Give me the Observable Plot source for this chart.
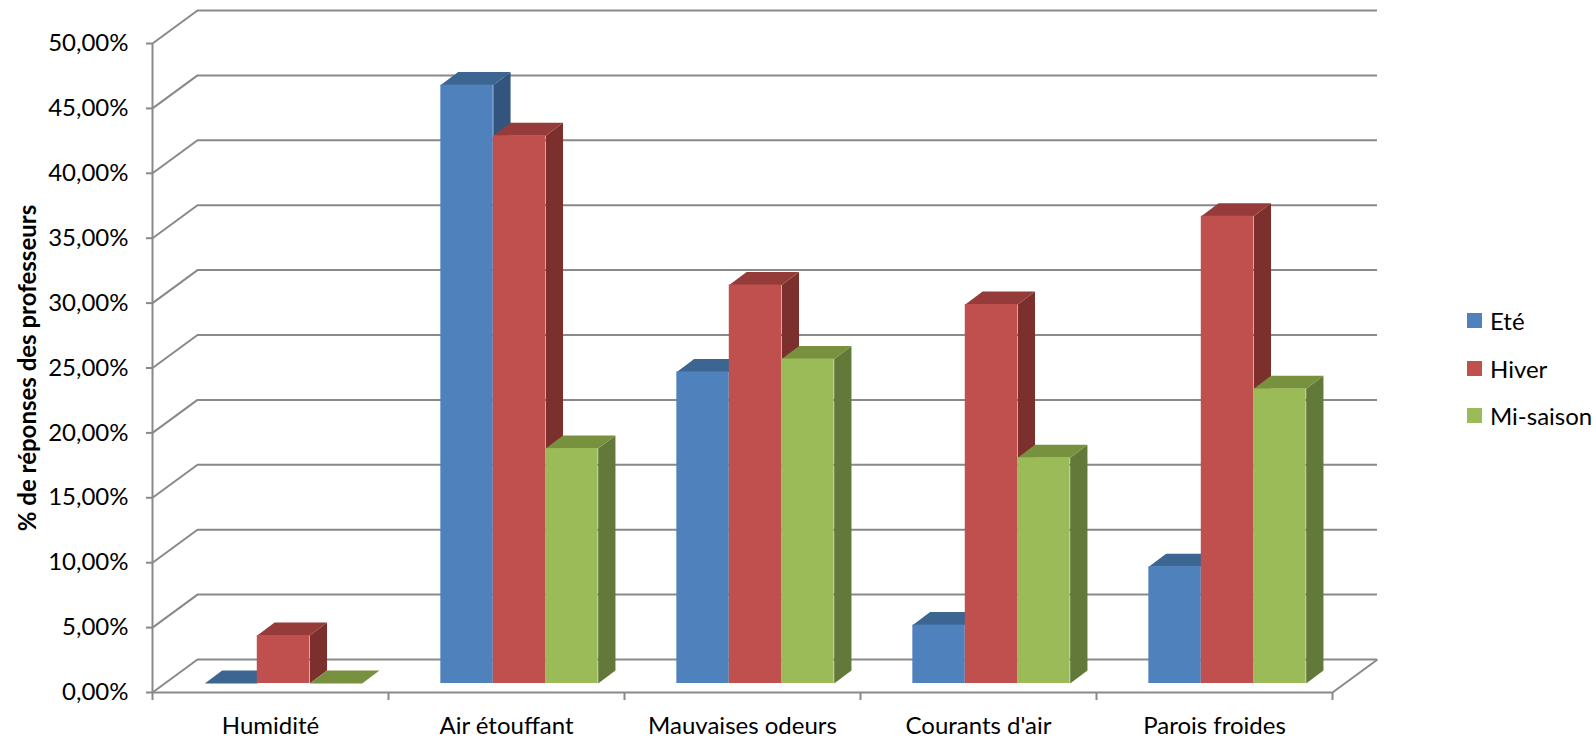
<!DOCTYPE html>
<html>
<head>
<meta charset="utf-8">
<script src="https://cdn.jsdelivr.net/npm/d3@7"></script>
<script src="https://cdn.jsdelivr.net/npm/@observablehq/plot@0.6"></script>
<style>
  html, body { margin: 0; padding: 0; background: #fff; }
  #chart { position: relative; width: 1596px; height: 754px; font-family: Lato, "Open Sans", sans-serif; }
  #legend { position: absolute; left: 1467px; top: 297px; font-size: 24px; color: #000; }
  .row { display: flex; align-items: center; height: 47.5px; }
  .sw { width: 15px; height: 15px; margin-right: 8px; }
</style>
</head>
<body>
<div id="chart"></div>
<script>
// ---- data ----
const categories = ["Humidité", "Air étouffant", "Mauvaises odeurs", "Courants d'air", "Parois froides"];
const seriesNames = ["Eté", "Hiver", "Mi-saison"];
const ete      = [0.000, 0.461, 0.240, 0.045, 0.090];
const hiver    = [0.037, 0.422, 0.307, 0.292, 0.360];
const miSaison = [0.000, 0.181, 0.250, 0.174, 0.227];
const yTicks = [0, 0.05, 0.10, 0.15, 0.20, 0.25, 0.30, 0.35, 0.40, 0.45, 0.50];

// ---- styles ----
const frontColors = ["#4F81BD", "#C0504D", "#9BBB59"];
const topColors   = ["#3D6592", "#953C3A", "#78913F"];
const sideColors  = ["#33547C", "#7B302E", "#63793A"];
const gridColor = "#898989";

const W = 1596, H = 754;
const mL = 152, mR = 264, mT = 43, mB = 62;
const pxX = (W - mL - mR) / categories.length; // px per category unit
const pxY = (H - mT - mB) / 0.5;               // px per unit of value

// depth of the walls (px) and of the bars (px), converted into data units
const wallDX = 45 / pxX, wallDY = 33 / pxY;
const barDX = 17.3 / pxX, barDY = 13 / pxY;
const barShiftX = 13, barShiftY = -9;   // bar front plane offset (px)
const barW = 1 / 4.5;                   // gap width 150 %
const groupOff = (1 - 3 * barW) / 2;

const seriesValues = [ete, hiver, miSaison];
const bars = [];
categories.forEach((c, i) => {
  seriesValues.forEach((vals, j) => {
    const x0 = i + groupOff + j * barW;
    bars.push({cat: c, series: seriesNames[j], j, x0, x1: x0 + barW, v: vals[i]});
  });
});

const tops = [], sides = [];
bars.forEach((b, k) => {
  const id = "b" + k;
  [[b.x0, b.v], [b.x1, b.v], [b.x1 + barDX, b.v + barDY], [b.x0 + barDX, b.v + barDY]]
    .forEach(([x, y]) => tops.push({id, x, y, fill: topColors[b.j]}));
  [[b.x1, 0], [b.x1, b.v], [b.x1 + barDX, b.v + barDY], [b.x1 + barDX, barDY]]
    .forEach(([x, y]) => sides.push({id, x, y, fill: sideColors[b.j]}));
});

const fmt = d => (d * 100).toFixed(2).replace(".", ",") + "%";
const n = categories.length;

const chart = Plot.plot({
  width: W, height: H,
  marginLeft: mL, marginRight: mR, marginTop: mT, marginBottom: mB,
  x: {domain: [0, n], axis: null, label: null},
  y: {domain: [0, 0.5], axis: null, label: null},
  color: {type: "identity"},
  style: {fontFamily: "Lato, 'Open Sans', sans-serif", fontSize: "24px", color: "#000", background: "#fff", overflow: "visible"},
  marks: [
    // back wall gridlines
    Plot.ruleY(yTicks, {x1: 0, x2: n, dx: 45, dy: -33, stroke: gridColor, strokeWidth: 2}),
    // side wall diagonals
    Plot.link(yTicks, {x1: 0, y1: d => d, x2: wallDX, y2: d => d + wallDY, stroke: gridColor, strokeWidth: 2}),
    // floor front edge and right edge
    Plot.ruleY([0], {x1: 0, x2: n, stroke: gridColor, strokeWidth: 2}),
    Plot.link([0], {x1: n, y1: 0, x2: n + wallDX, y2: wallDY, stroke: gridColor, strokeWidth: 2}),
    // vertical axis line
    Plot.ruleX([0], {y1: 0, y2: 0.5, stroke: gridColor, strokeWidth: 2}),
    Plot.axisY(yTicks, {tickSize: 6, tickPadding: 18, tickFormat: fmt, fontSize: 24, stroke: gridColor, fill: "#000", strokeWidth: 2, label: null}),
    Plot.axisX(d3.range(n + 1), {tickSize: 8, tickFormat: () => "", stroke: gridColor, strokeWidth: 2, label: null}),
    Plot.axisX(d3.range(n).map(i => i + 0.5), {tickSize: 0, tickPadding: 24, tickFormat: d => categories[Math.floor(d)], fontSize: 24, fill: "#000", label: null}),
    // bars: side faces, top faces, front faces
    Plot.line(sides, {x: "x", y: "y", z: "id", fill: "fill", stroke: "none", dx: barShiftX, dy: barShiftY}),
    Plot.line(tops, {x: "x", y: "y", z: "id", fill: "fill", stroke: "none", dx: barShiftX, dy: barShiftY}),
    Plot.rect(bars, {x1: "x0", x2: "x1", y1: 0, y2: "v", fill: b => frontColors[b.j], dx: barShiftX, dy: barShiftY}),
    // y title
    Plot.text(["% de réponses des professeurs"], {text: d => d, frameAnchor: "left", textAnchor: "middle", rotate: -90, dx: -124, fontWeight: "bold", fontSize: 24, fill: "#000"})
  ]
});
document.getElementById("chart").appendChild(chart);

// legend
const legend = document.createElement("div");
legend.id = "legend";
seriesNames.forEach((s, j) => {
  const row = document.createElement("div");
  row.className = "row";
  const sw = document.createElement("div");
  sw.className = "sw";
  sw.style.background = frontColors[j];
  const t = document.createElement("span");
  t.textContent = s;
  row.appendChild(sw);
  row.appendChild(t);
  legend.appendChild(row);
});
document.getElementById("chart").appendChild(legend);
</script>
</body>
</html>
